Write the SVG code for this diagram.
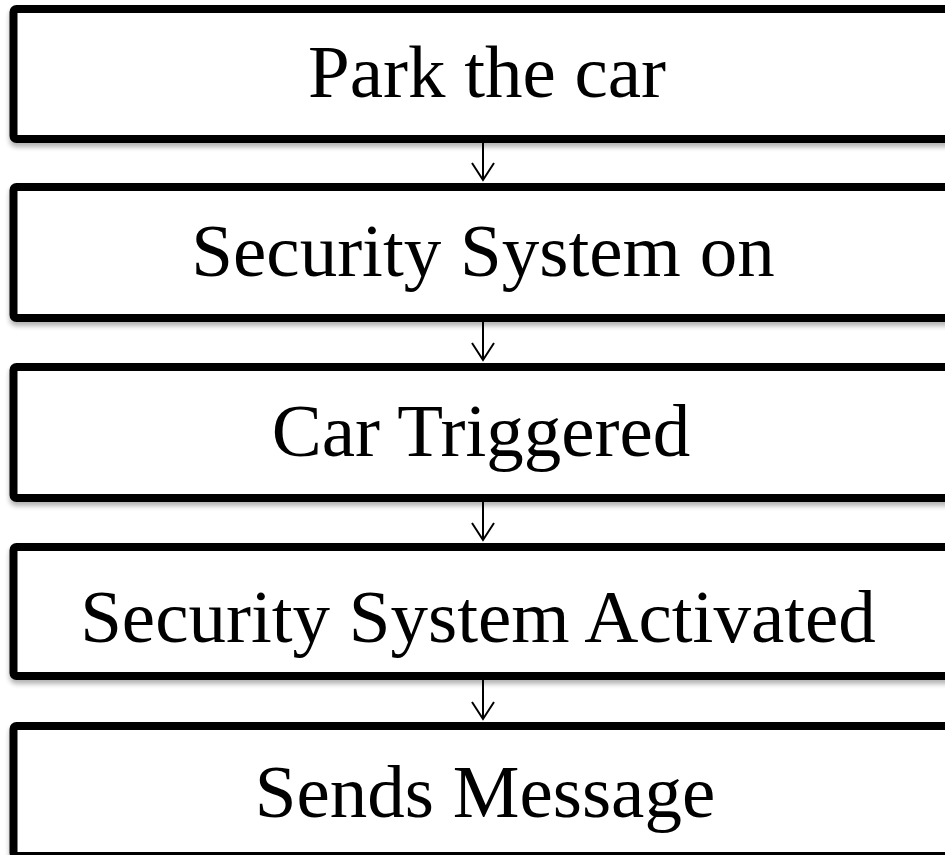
<svg xmlns="http://www.w3.org/2000/svg" width="945" height="855" viewBox="0 0 945 855">
  <defs>
    <filter id="shadow" x="-5%" y="-10%" width="110%" height="130%">
      <feGaussianBlur in="SourceAlpha" stdDeviation="2.5"/>
      <feOffset dx="0" dy="4" result="b"/>
      <feComponentTransfer><feFuncA type="linear" slope="0.3"/></feComponentTransfer>
      <feMerge><feMergeNode/><feMergeNode in="SourceGraphic"/></feMerge>
    </filter>
    <!-- open V arrowhead, drawn along +x so orient="auto" points it down the line -->
    <marker id="arrow" markerWidth="20" markerHeight="24" refX="18" refY="12" orient="auto" markerUnits="userSpaceOnUse" viewBox="0 0 20 24">
      <path d="M1,1 L18,12 L1,23" fill="none" stroke="#000" stroke-width="2"/>
    </marker>
  </defs>
  <style>
    .box { fill: #fff; stroke: #000; stroke-width: 8; }
    .label { font-family: "Liberation Serif", "Times New Roman", serif; font-size: 75px; fill: #000; text-anchor: middle; }
    .conn { stroke: #000; stroke-width: 2; fill: none; }
  </style>
  <rect width="945" height="855" fill="#fff"/>

  <g id="connectors">
    <path class="conn" d="M483,143 V180" marker-end="url(#arrow)"/>
    <path class="conn" d="M483,322 V360" marker-end="url(#arrow)"/>
    <path class="conn" d="M483,502 V540" marker-end="url(#arrow)"/>
    <path class="conn" d="M483,680 V719" marker-end="url(#arrow)"/>
  </g>

  <g id="node-park">
    <rect class="box" x="13.5" y="9" width="960" height="130" rx="3" filter="url(#shadow)"/>
    <text class="label" x="487" y="97">Park the car</text>
  </g>
  <g id="node-security-on">
    <rect class="box" x="13.5" y="187" width="960" height="131" rx="3" filter="url(#shadow)"/>
    <text class="label" x="483" y="276">Security System on</text>
  </g>
  <g id="node-triggered">
    <rect class="box" x="13.5" y="367" width="960" height="131" rx="3" filter="url(#shadow)"/>
    <text class="label" x="481" y="456">Car Triggered</text>
  </g>
  <g id="node-activated">
    <rect class="box" x="13.5" y="547" width="960" height="129" rx="3" filter="url(#shadow)"/>
    <text class="label" x="478" y="642">Security System Activated</text>
  </g>
  <g id="node-message">
    <rect class="box" x="13.5" y="726" width="960" height="130" rx="3" filter="url(#shadow)"/>
    <text class="label" x="485" y="817">Sends Message</text>
  </g>
</svg>
